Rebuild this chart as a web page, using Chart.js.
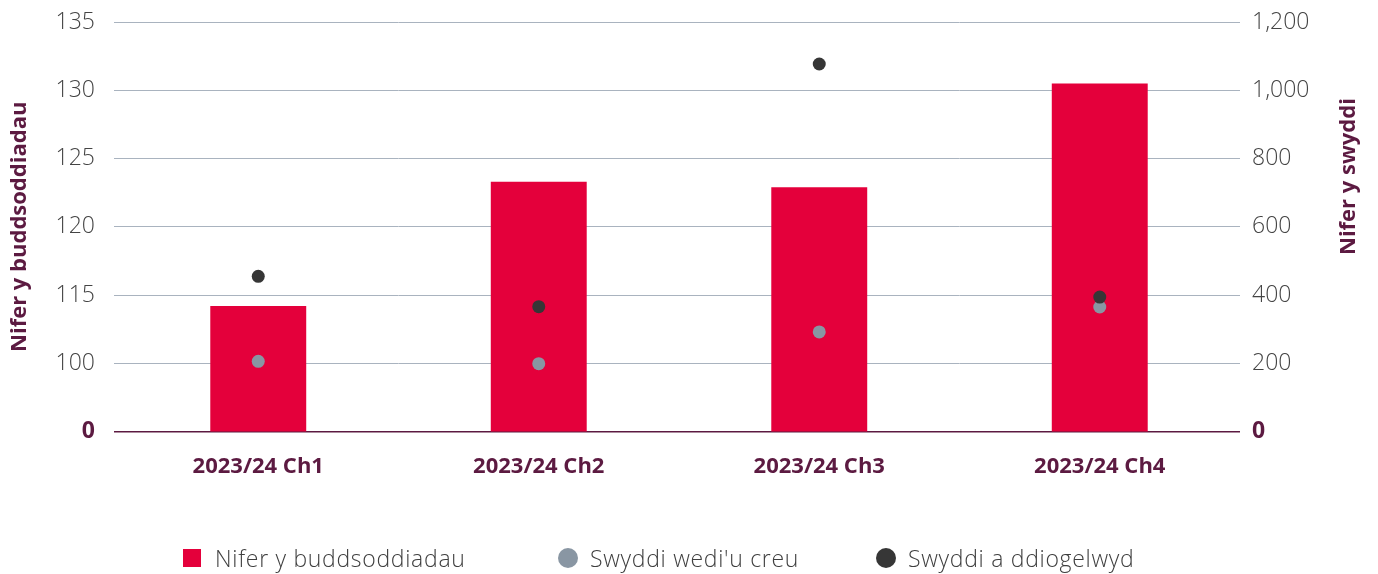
<!DOCTYPE html>
<html lang="cy">
  <head>
    <meta charset="UTF-8" />
    <title>Nifer y buddsoddiadau a swyddi</title>
    <style>
      body { margin: 0; background: #fff; font-family: "Open Sans", sans-serif; }
      #wrap { position: relative; width: 1378px; height: 574px; }
      .item {
        position: absolute; top: 545px; height: 26px;
        display: flex; align-items: center; white-space: nowrap;
        font-size: 23px; font-weight: 300; letter-spacing: 0.7px; color: #3f3f3f;
      }
      .mark { display: inline-block; margin-right: 14px; }
      .box { width: 18px; height: 18px; }
      .dot { width: 20px; height: 20px; border-radius: 50%; margin-right: 12px; }
    </style>
  </head>

  <body>
    <div id="wrap">
      <canvas id="myChart"></canvas>
    </div>

    <script src="https://cdn.jsdelivr.net/npm/chart.js"></script>
    <script>
      const categories = ["2023/24 Ch1", "2023/24 Ch2", "2023/24 Ch3", "2023/24 Ch4"];
      const buddsoddiadau = [114.2, 123.3, 122.9, 130.5];
      const swyddiCreu = [206, 199, 292, 365];
      const swyddiDdiogelwyd = [455, 366, 1077, 394];

      // left axis is broken: the two lowest ticks are relabelled
      const leftTickLabels = { 105: "0", 110: "100" };

      const maroon = "#5c1a41";
      const red = "#e4003b";
      const grey = "#8996a3";
      const dark = "#363636";
      const tickFont = { family: "Open Sans", size: 23, weight: 300 };
      const zeroFont = { family: "Open Sans", size: 23, weight: "bold" };

      const isTick = (ctx, v) => !!ctx.tick && ctx.tick.value === v;

      // right title reads bottom-to-top, like the left one
      const rightTitle = {
        id: "rightTitle",
        afterDraw(chart) {
          const c = chart.ctx;
          c.save();
          c.translate(1349, 255);
          c.rotate(-Math.PI / 2);
          c.font = "bold 22px 'Open Sans'";
          c.fillStyle = maroon;
          c.textAlign = "left";
          c.textBaseline = "middle";
          c.fillText("Nifer y swyddi", 0, 0);
          c.restore();
        },
      };

      const chart = new Chart(document.getElementById("myChart"), {
        data: {
          labels: categories,
          datasets: [
            {
              type: "line",
              label: "Swyddi wedi'u creu",
              data: swyddiCreu,
              yAxisID: "y1",
              showLine: false,
              pointRadius: 6.5,
              pointHoverRadius: 6.5,
              pointBackgroundColor: grey,
              pointBorderWidth: 0,
              backgroundColor: grey,
              order: 1,
            },
            {
              type: "line",
              label: "Swyddi a ddiogelwyd",
              data: swyddiDdiogelwyd,
              yAxisID: "y1",
              showLine: false,
              pointRadius: 6.5,
              pointHoverRadius: 6.5,
              pointBackgroundColor: dark,
              pointBorderWidth: 0,
              backgroundColor: dark,
              order: 0,
            },
            {
              type: "bar",
              label: "Nifer y buddsoddiadau",
              data: buddsoddiadau,
              yAxisID: "y",
              backgroundColor: red,
              categoryPercentage: 1,
              barPercentage: 0.342,
              order: 2,
            },
          ],
        },
        options: {
          responsive: true,
          maintainAspectRatio: false,
          animation: false,
          layout: { padding: { top: 22, bottom: 72, left: 0, right: 0 } },
          plugins: {
            legend: { display: false },
            tooltip: { enabled: false },
          },
          scales: {
            x: {
              grid: { display: false, drawTicks: false },
              border: { display: false },
              ticks: {
                padding: 22,
                color: maroon,
                font: { family: "Open Sans", size: 22, weight: "bold" },
              },
            },
            y: {
              position: "left",
              min: 105,
              max: 135,
              ticks: {
                stepSize: 5,
                padding: 19,
                color: (ctx) => (isTick(ctx, 105) ? maroon : "#444"),
                font: (ctx) => (isTick(ctx, 105) ? zeroFont : tickFont),
                callback: (v) => leftTickLabels[v] ?? String(v),
              },
              grid: {
                color: (ctx) => (isTick(ctx, 105) ? maroon : "#a9b3bf"),
                lineWidth: (ctx) => (isTick(ctx, 105) ? 1.5 : 1),
                tickLength: 4,
              },
              border: { display: false },
              title: {
                display: true,
                text: "Nifer y buddsoddiadau",
                color: maroon,
                font: { family: "Open Sans", size: 22, weight: "bold" },
                padding: { top: 7, bottom: 0 },
              },
              afterFit: (scale) => {
                scale.width = 118;
                scale.paddingTop = 0;
                scale.paddingBottom = 0;
              },
            },
            y1: {
              position: "right",
              min: 0,
              max: 1200,
              ticks: {
                stepSize: 200,
                padding: 12,
                color: (ctx) => (isTick(ctx, 0) ? maroon : "#444"),
                font: (ctx) => (isTick(ctx, 0) ? zeroFont : tickFont),
                callback: (v) => v.toLocaleString("en-GB"),
              },
              grid: { display: false, drawTicks: false },
              border: { display: false },
              afterFit: (scale) => {
                scale.width = 138;
                scale.paddingTop = 0;
                scale.paddingBottom = 0;
              },
            },
          },
        },
        plugins: [rightTitle],
      });

      // legend below the chart
      const legendItems = [
        { text: "Nifer y buddsoddiadau", color: red, cls: "box" },
        { text: "Swyddi wedi'u creu", color: grey, cls: "dot" },
        { text: "Swyddi a ddiogelwyd", color: dark, cls: "dot" },
      ];
      const legendLeft = [183, 558, 876];
      const wrap = document.getElementById("wrap");
      legendItems.forEach((it, i) => {
        const el = document.createElement("div");
        el.className = "item";
        el.style.left = legendLeft[i] + "px";
        el.innerHTML = `<span class="mark ${it.cls}" style="background:${it.color}"></span>${it.text}`;
        wrap.appendChild(el);
      });
    </script>
  </body>
</html>
